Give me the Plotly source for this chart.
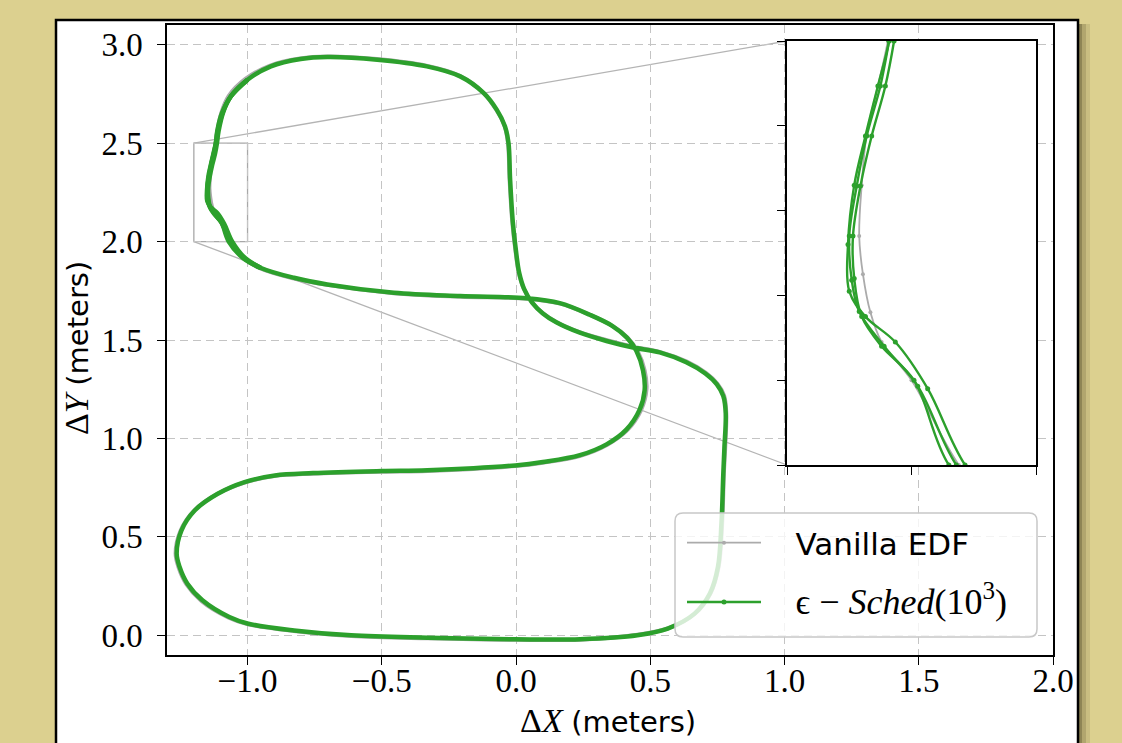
import plotly.graph_objects as go

# ---------------- data ----------------
# epsilon-Sched(10^3): one full lap of the trajectory
sched_x = [0.452, 0.565, 0.665, 0.722, 0.752, 0.765, 0.772, 0.776, 0.781, 0.772, 0.748, 0.705, 0.634, 0.535,
           0.436, 0.337, 0.238, 0.150, 0.100, 0.060, 0.030, 0.012, 0.000, -0.012, -0.022, -0.028, -0.041,
           -0.072, -0.121, -0.208, -0.332, -0.517, -0.703, -0.802, -0.913, -1.000, -1.062, -1.093,
           -1.111, -1.118, -1.125, -1.136, -1.144, -1.150, -1.148, -1.142, -1.122, -1.095, -1.064,
           -1.017, -0.950, -0.827, -0.703, -0.455, -0.208, 0.040, 0.163, 0.275, 0.358, 0.413, 0.448,
           0.473, 0.479, 0.460, 0.411, 0.337, 0.238, 0.100, -0.003, -0.330, -0.500, -0.756, -0.898,
           -1.011, -1.111, -1.196, -1.246, -1.264, -1.253, -1.224, -1.168, -1.068, -0.997, -0.827,
           -0.614, -0.330, -0.003, 0.239, 0.452]
sched_y = [0.000, 0.034, 0.110, 0.212, 0.347, 0.567, 0.821, 0.950, 1.128, 1.215, 1.275, 1.330, 1.387, 1.437,
           1.462, 1.495, 1.537, 1.590, 1.635, 1.690, 1.760, 1.840, 1.950, 2.100, 2.315, 2.500, 2.585,
           2.670, 2.755, 2.839, 2.890, 2.924, 2.937, 2.927, 2.890, 2.822, 2.738, 2.653,
           2.560, 2.500, 2.447, 2.388, 2.329, 2.270, 2.218, 2.181, 2.140, 2.093, 2.000,
           1.920, 1.866, 1.816, 1.782, 1.740, 1.723, 1.712, 1.687, 1.628, 1.572, 1.512, 1.445,
           1.345, 1.245, 1.145, 1.045, 0.970, 0.915, 0.880, 0.863, 0.838, 0.834, 0.824, 0.812,
           0.778, 0.719, 0.635, 0.533, 0.415, 0.347, 0.262, 0.178, 0.093, 0.059, 0.025,
           0.000, -0.012, -0.020, -0.020, 0.000]

# further epsilon-Sched laps, visible as separate strands in the zoomed region
sched_lap2_x = [-1.000, -1.062, -1.090, -1.108, -1.114, -1.121, -1.132, -1.141, -1.147, -1.146, -1.140,
                -1.124, -1.098, -1.070, -1.017, -0.950]
sched_lap2_y = [2.822, 2.738, 2.660, 2.560, 2.500, 2.447, 2.388, 2.329, 2.270, 2.220, 2.175,
                2.140, 2.100, 2.000, 1.917, 1.866]
sched_lap3_x = [-1.000, -1.062, -1.096, -1.113, -1.118, -1.127, -1.137, -1.146, -1.151, -1.150, -1.137,
                -1.113, -1.087, -1.057, -1.008, -0.950]
sched_lap3_y = [2.822, 2.738, 2.650, 2.560, 2.500, 2.447, 2.388, 2.330, 2.260, 2.205, 2.175,
                2.145, 2.090, 2.000, 1.915, 1.866]

# Vanilla EDF: one lap
vanilla_x = [0.452, 0.568, 0.668, 0.725, 0.755, 0.768, 0.774, 0.779, 0.783, 0.775, 0.750, 0.707, 0.636, 0.535,
             0.436, 0.335, 0.236, 0.148, 0.098, 0.058, 0.028, 0.010, -0.002, -0.014, -0.024, -0.030, -0.043,
             -0.075, -0.124, -0.210, -0.334, -0.518, -0.703, -0.805, -0.918, -1.008, -1.070, -1.098,
             -1.113, -1.119, -1.127, -1.136, -1.140, -1.142, -1.139, -1.133, -1.124, -1.100,
             -1.062, -1.014, -0.952, -0.830, -0.705, -0.456, -0.210, 0.040, 0.165, 0.278, 0.362, 0.417,
             0.453, 0.479, 0.486, 0.466, 0.415, 0.340, 0.240, 0.100, -0.003, -0.330, -0.500, -0.756,
             -0.900, -1.014, -1.115, -1.200, -1.250, -1.268, -1.257, -1.228, -1.172, -1.070, -0.998,
             -0.828, -0.614, -0.330, -0.003, 0.239, 0.452]
vanilla_y = [0.003, 0.036, 0.112, 0.215, 0.350, 0.570, 0.820, 0.950, 1.130, 1.218, 1.278, 1.333, 1.390, 1.440,
             1.466, 1.500, 1.540, 1.593, 1.638, 1.693, 1.763, 1.843, 1.953, 2.100, 2.315, 2.500, 2.588,
             2.672, 2.758, 2.842, 2.893, 2.927, 2.940, 2.930, 2.893, 2.826, 2.740, 2.653,
             2.560, 2.500, 2.447, 2.390, 2.330, 2.270, 2.225, 2.180, 2.145, 2.100,
             2.000, 1.915, 1.863, 1.813, 1.780, 1.738, 1.720, 1.710, 1.685, 1.626, 1.569, 1.510,
             1.443, 1.345, 1.250, 1.145, 1.043, 0.968, 0.912, 0.877, 0.860, 0.835, 0.831, 0.821,
             0.809, 0.775, 0.716, 0.632, 0.530, 0.415, 0.345, 0.260, 0.175, 0.090, 0.056,
             0.022, -0.003, -0.015, -0.023, -0.022, 0.003]

series_names = ["\u00a0\u00a0\u00a0Vanilla EDF",
                "\u00a0\u00a0\u00a0<span style=\"font-family:'Liberation Serif';font-size:36px\">ϵ − <i>Sched</i>(10<sup>3</sup>)</span>"]

x_range = [-1.3, 2.0]
y_range = [-0.1, 3.1]
x_ticks = [-1.0, -0.5, 0.0, 0.5, 1.0, 1.5, 2.0]
y_ticks = [0.0, 0.5, 1.0, 1.5, 2.0, 2.5, 3.0]
zoom_x = [-1.2, -1.0]
zoom_y = [2.0, 2.5]
zoom_x_ticks = [-1.2, -1.1, -1.0]
zoom_y_ticks = [2.0, 2.1, 2.2, 2.3, 2.4, 2.5]

# ---------------- layout geometry ----------------
W, H = 1122, 743
L, R, T, B = 167, 69, 25, 88
PW, PH = W - L - R, H - T - B


def px(xp):
    return (xp - L) / PW


def py(yp):
    return (H - B - yp) / PH


GREEN = "#2ca02c"
GRAY = "#ababab"
SERIF = "Liberation Serif"
SANS = "DejaVu Sans"

inset_dom_x = [px(787), px(1036)]
inset_dom_y = [py(465), py(41)]

sched_all_x = sched_x + [None] + sched_lap2_x + [None] + sched_lap3_x
sched_all_y = sched_y + [None] + sched_lap2_y + [None] + sched_lap3_y

fig = go.Figure()
# main axes
fig.add_trace(go.Scatter(x=vanilla_x, y=vanilla_y, mode="lines", line=dict(color=GRAY, width=4, shape="spline"),
                         name=series_names[0], legendgroup="v", showlegend=False, hoverinfo="skip"))
fig.add_trace(go.Scatter(x=sched_all_x, y=sched_all_y, mode="lines", line=dict(color=GREEN, width=4.5, shape="spline"),
                         name=series_names[1], legendgroup="s", showlegend=False, hoverinfo="skip"))
# inset axes
fig.add_trace(go.Scatter(x=vanilla_x, y=vanilla_y, mode="lines+markers", xaxis="x2", yaxis="y2",
                         line=dict(color=GRAY, width=1.8, shape="spline"), marker=dict(color=GRAY, size=4),
                         name=series_names[0], legendgroup="v", showlegend=True))
fig.add_trace(go.Scatter(x=sched_all_x, y=sched_all_y, mode="lines+markers", xaxis="x2", yaxis="y2",
                         line=dict(color=GREEN, width=2.4, shape="spline"), marker=dict(color=GREEN, size=5),
                         name=series_names[1], legendgroup="s", showlegend=True))

shapes = []
# figure frame + shadow
for k, a in [(12, 0.10), (8, 0.15), (4, 0.25)]:
    shapes.append(dict(type="rect", xref="paper", yref="paper", x0=px(1078), x1=px(1078 + k),
                       y0=py(800), y1=py(24), fillcolor=f"rgba(40,35,10,{a})", line=dict(width=0), layer="below"))
shapes.append(dict(type="rect", xref="paper", yref="paper", x0=px(56), x1=px(1078), y0=py(800), y1=py(20),
                   fillcolor="white", line=dict(color="black", width=2.5), layer="below"))
# zoom rectangle and connectors
ins_x0 = x_range[0] + inset_dom_x[0] * (x_range[1] - x_range[0])
ins_y0 = y_range[0] + inset_dom_y[0] * (y_range[1] - y_range[0])
ins_y1 = y_range[0] + inset_dom_y[1] * (y_range[1] - y_range[0])
shapes.append(dict(type="rect", xref="x", yref="y", x0=zoom_x[0], x1=zoom_x[1], y0=zoom_y[0], y1=zoom_y[1],
                   line=dict(color="#a8a8a8", width=1.3), layer="below"))
shapes.append(dict(type="line", xref="x", yref="y", x0=zoom_x[0], y0=zoom_y[1], x1=ins_x0, y1=ins_y1,
                   line=dict(color="#b4b4b4", width=1.3), layer="below"))
shapes.append(dict(type="line", xref="x", yref="y", x0=zoom_x[0], y0=zoom_y[0], x1=ins_x0, y1=ins_y0,
                   line=dict(color="#b4b4b4", width=1.3), layer="below"))
# legend frame (rounded)
lx0, lx1, ly0, ly1, rr = 675, 1037, 513, 637, 8
path = (f"M{px(lx0 + rr)},{py(ly0)} L{px(lx1 - rr)},{py(ly0)} Q{px(lx1)},{py(ly0)} {px(lx1)},{py(ly0 + rr)} "
        f"L{px(lx1)},{py(ly1 - rr)} Q{px(lx1)},{py(ly1)} {px(lx1 - rr)},{py(ly1)} "
        f"L{px(lx0 + rr)},{py(ly1)} Q{px(lx0)},{py(ly1)} {px(lx0)},{py(ly1 - rr)} "
        f"L{px(lx0)},{py(ly0 + rr)} Q{px(lx0)},{py(ly0)} {px(lx0 + rr)},{py(ly0)} Z")
shapes.append(dict(type="path", xref="paper", yref="paper", path=path, fillcolor="rgba(255,255,255,0.8)",
                   line=dict(color="#c8c8c8", width=1.5), layer="above"))

annotations = [
    dict(xref="paper", yref="paper", x=px(608), y=py(720), xanchor="center", yanchor="middle", showarrow=False,
         text=f"Δ<i>X</i> <span style=\"font-family:'{SANS}';font-size:29px\">(meters)</span>",
         font=dict(family=SERIF, size=34, color="black")),
    dict(xref="paper", yref="paper", x=px(76), y=py(348), xanchor="center", yanchor="middle", showarrow=False,
         textangle=-90,
         text=f"Δ<i>Y</i> <span style=\"font-family:'{SANS}';font-size:29px\">(meters)</span>",
         font=dict(family=SERIF, size=34, color="black")),
]

axis_common = dict(showline=True, linecolor="black", linewidth=1.5, mirror=True, ticks="outside",
                   ticklen=8, tickwidth=1.3, tickcolor="black", zeroline=False)
tick_font = dict(family=SERIF, size=33, color="black")

fig.update_layout(
    width=W, height=H,
    margin=dict(l=L, r=R, t=T, b=B, pad=0),
    paper_bgcolor="#dcd08f", plot_bgcolor="white",
    font=dict(family=SERIF, size=32, color="black"),
    shapes=shapes, annotations=annotations,
    xaxis=dict(range=x_range, tickvals=x_ticks, tickformat=".1f", showgrid=True, gridcolor="#c4c4c4",
               griddash="8px,5px", gridwidth=1, ticklabelstandoff=-12, tickfont=tick_font, **axis_common),
    yaxis=dict(range=y_range, tickvals=y_ticks, tickformat=".1f", showgrid=True, gridcolor="#c4c4c4",
               griddash="8px,5px", gridwidth=1, ticklabelstandoff=8, tickfont=tick_font, **axis_common),
    xaxis2=dict(domain=inset_dom_x, anchor="y2", range=zoom_x, tickvals=zoom_x_ticks, showticklabels=False,
                showgrid=False, **axis_common),
    yaxis2=dict(domain=inset_dom_y, anchor="x2", range=zoom_y, tickvals=zoom_y_ticks, showticklabels=False,
                showgrid=False, **axis_common),
    legend=dict(x=px(682), y=py(516), xanchor="left", yanchor="top", bgcolor="rgba(0,0,0,0)", borderwidth=0,
                font=dict(family=SANS, size=31, color="black"), itemwidth=74, tracegroupgap=16),
    showlegend=True,
)

fig.write_html("out.html", config={"displayModeBar": False},
               post_script="document.body.style.margin='0';document.body.style.padding='0';")
